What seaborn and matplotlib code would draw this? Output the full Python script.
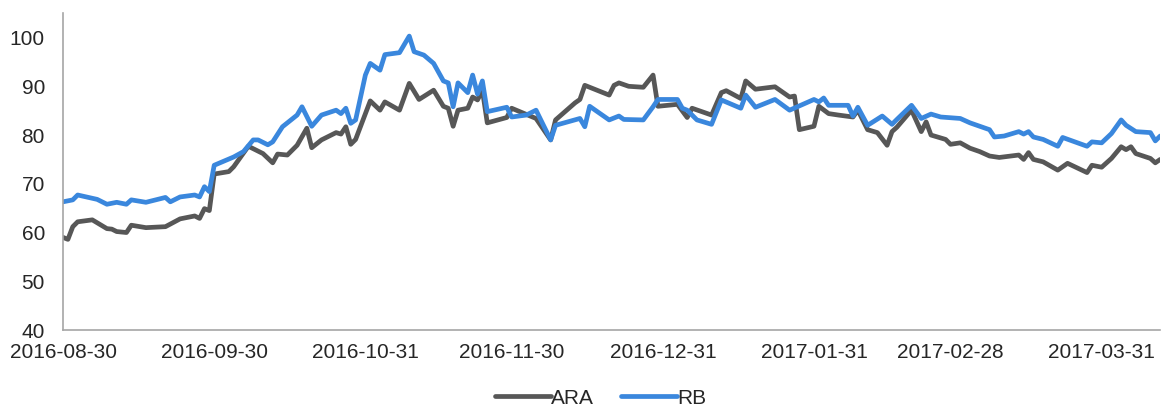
import pandas as pd
import numpy as np
import matplotlib.pyplot as plt
import matplotlib.dates as mdates
import seaborn as sns

# ARA series (dates)
ara_dates = ['2016-08-30', '2016-08-31', '2016-09-01', '2016-09-02', '2016-09-05', '2016-09-08',
             '2016-09-09', '2016-09-10', '2016-09-12', '2016-09-13', '2016-09-16', '2016-09-20',
             '2016-09-23', '2016-09-26', '2016-09-27', '2016-09-28', '2016-09-29', '2016-09-30',
             '2016-10-03', '2016-10-04', '2016-10-07', '2016-10-10', '2016-10-12', '2016-10-13',
             '2016-10-15', '2016-10-17', '2016-10-19', '2016-10-20', '2016-10-22', '2016-10-25',
             '2016-10-26', '2016-10-27', '2016-10-28', '2016-10-29', '2016-11-01', '2016-11-03',
             '2016-11-04', '2016-11-07', '2016-11-09', '2016-11-11', '2016-11-14', '2016-11-16',
             '2016-11-17', '2016-11-18', '2016-11-19', '2016-11-21', '2016-11-22', '2016-11-23',
             '2016-11-24', '2016-11-25', '2016-11-29', '2016-11-30', '2016-12-05', '2016-12-08',
             '2016-12-09', '2016-12-13', '2016-12-14', '2016-12-15', '2016-12-20', '2016-12-21',
             '2016-12-22', '2016-12-24', '2016-12-27', '2016-12-29', '2016-12-30', '2017-01-03',
             '2017-01-05', '2017-01-06', '2017-01-10', '2017-01-12', '2017-01-13', '2017-01-16',
             '2017-01-17', '2017-01-19', '2017-01-23', '2017-01-26', '2017-01-27', '2017-01-28',
             '2017-01-31', '2017-02-01', '2017-02-03', '2017-02-05', '2017-02-08', '2017-02-09',
             '2017-02-11', '2017-02-13', '2017-02-15', '2017-02-16', '2017-02-17', '2017-02-20',
             '2017-02-22', '2017-02-23', '2017-02-24', '2017-02-27', '2017-02-28', '2017-03-02',
             '2017-03-04', '2017-03-06', '2017-03-08', '2017-03-10', '2017-03-14', '2017-03-15',
             '2017-03-16', '2017-03-17', '2017-03-19', '2017-03-22', '2017-03-24', '2017-03-28',
             '2017-03-29', '2017-03-31', '2017-04-02', '2017-04-04', '2017-04-05', '2017-04-06',
             '2017-04-07', '2017-04-10', '2017-04-11', '2017-04-12']
ara_values = [59.0, 58.6, 61.2, 62.2, 62.6, 60.8,
              60.7, 60.2, 60.0, 61.5, 61.0, 61.2,
              62.8, 63.4, 62.9, 64.9, 64.5, 72.0,
              72.5, 73.5, 77.7, 76.2, 74.3, 76.1,
              75.9, 77.9, 81.4, 77.4, 79.0, 80.5,
              80.2, 81.7, 78.1, 79.1, 87.0, 85.1,
              86.8, 85.1, 90.6, 87.3, 89.2, 85.9,
              85.5, 81.8, 85.1, 85.5, 87.8, 87.2,
              89.2, 82.5, 83.6, 85.5, 83.4, 79.0,
              83.1, 86.6, 87.3, 90.2, 88.2, 90.2,
              90.7, 90.0, 89.8, 92.3, 85.9, 86.3,
              83.6, 85.5, 84.1, 88.7, 89.1, 87.5,
              91.1, 89.4, 89.9, 87.8, 88.0, 81.1,
              81.8, 85.9, 84.4, 84.1, 83.7, 85.1,
              81.1, 80.5, 77.9, 80.7, 81.6, 85.1,
              80.7, 82.7, 80.0, 79.1, 78.1, 78.4,
              77.3, 76.6, 75.7, 75.4, 75.9, 75.0,
              76.4, 75.0, 74.5, 72.8, 74.2, 72.3,
              73.8, 73.4, 75.2, 77.6, 77.0, 77.6,
              76.2, 75.2, 74.3, 75.0]

# RB series
rb_dates = ['2016-08-30', '2016-09-01', '2016-09-02', '2016-09-06', '2016-09-08', '2016-09-10',
            '2016-09-12', '2016-09-13', '2016-09-16', '2016-09-20', '2016-09-21', '2016-09-23',
            '2016-09-26', '2016-09-27', '2016-09-28', '2016-09-29', '2016-09-30', '2016-10-04',
            '2016-10-06', '2016-10-08', '2016-10-09', '2016-10-11', '2016-10-12', '2016-10-14',
            '2016-10-17', '2016-10-18', '2016-10-20', '2016-10-22', '2016-10-25', '2016-10-26',
            '2016-10-27', '2016-10-28', '2016-10-29', '2016-10-31', '2016-11-01', '2016-11-03',
            '2016-11-04', '2016-11-07', '2016-11-09', '2016-11-10', '2016-11-12', '2016-11-14',
            '2016-11-16', '2016-11-17', '2016-11-18', '2016-11-19', '2016-11-21', '2016-11-22',
            '2016-11-23', '2016-11-24', '2016-11-25', '2016-11-29', '2016-11-30', '2016-12-03',
            '2016-12-05', '2016-12-08', '2016-12-09', '2016-12-14', '2016-12-15', '2016-12-16',
            '2016-12-20', '2016-12-22', '2016-12-23', '2016-12-27', '2016-12-29', '2016-12-30',
            '2017-01-03', '2017-01-04', '2017-01-05', '2017-01-07', '2017-01-10', '2017-01-12',
            '2017-01-16', '2017-01-17', '2017-01-19', '2017-01-23', '2017-01-26', '2017-01-31',
            '2017-02-01', '2017-02-02', '2017-02-03', '2017-02-07', '2017-02-08', '2017-02-09',
            '2017-02-11', '2017-02-14', '2017-02-16', '2017-02-17', '2017-02-20', '2017-02-22',
            '2017-02-24', '2017-02-26', '2017-03-02', '2017-03-04', '2017-03-06', '2017-03-08',
            '2017-03-09', '2017-03-11', '2017-03-14', '2017-03-15', '2017-03-16', '2017-03-17',
            '2017-03-19', '2017-03-22', '2017-03-23', '2017-03-28', '2017-03-29', '2017-03-31',
            '2017-04-02', '2017-04-04', '2017-04-05', '2017-04-07', '2017-04-10', '2017-04-11',
            '2017-04-12']
rb_values = [66.3, 66.7, 67.7, 66.8, 65.8, 66.2,
             65.8, 66.7, 66.2, 67.2, 66.3, 67.3,
             67.7, 67.3, 69.4, 68.4, 73.8, 75.5,
             76.6, 79.0, 79.0, 78.0, 78.6, 81.7,
             84.1, 85.8, 81.8, 84.1, 85.1, 84.4,
             85.5, 82.4, 83.1, 92.3, 94.7, 93.3,
             96.5, 96.9, 100.3, 97.1, 96.4, 94.7,
             91.1, 90.7, 85.8, 90.7, 88.7, 92.3,
             88.4, 91.1, 84.8, 85.7, 83.7, 84.1,
             85.1, 79.0, 82.0, 83.4, 81.7, 85.9,
             83.1, 83.9, 83.2, 83.1, 85.8, 87.3,
             87.3, 85.5, 85.1, 83.1, 82.2, 87.2,
             85.5, 88.2, 85.7, 87.3, 85.1, 87.3,
             86.8, 87.6, 86.1, 86.1, 83.9, 85.7,
             82.0, 83.9, 82.2, 83.2, 86.1, 83.4,
             84.3, 83.7, 83.4, 82.5, 81.8, 81.1,
             79.6, 79.8, 80.7, 80.2, 80.7, 79.6,
             79.1, 77.7, 79.5, 77.7, 78.6, 78.4,
             80.3, 83.1, 82.0, 80.7, 80.5, 78.8,
             79.8]

tick_dates = ['2016-08-30', '2016-09-30', '2016-10-31', '2016-11-30', '2016-12-31',
              '2017-01-31', '2017-02-28', '2017-03-31']

ara = pd.DataFrame({'date': pd.to_datetime(ara_dates), 'value': ara_values, 'series': 'ARA'})
rb = pd.DataFrame({'date': pd.to_datetime(rb_dates), 'value': rb_values, 'series': 'RB'})
df = pd.concat([ara, rb], ignore_index=True)

sns.set_style('white')
plt.rcParams['font.family'] = ['Liberation Sans', 'DejaVu Sans']

fig = plt.figure(figsize=(11.61, 4.12), dpi=100)
ax = fig.add_axes([0.0543, 0.199, 0.945, 0.769])

sns.lineplot(data=df, x='date', y='value', hue='series', ax=ax,
             palette={'ARA': '#575757', 'RB': '#3a87dd'}, linewidth=3.4)

ax.set_xlim(pd.Timestamp('2016-08-30'), pd.Timestamp('2017-04-12'))
ax.set_ylim(40, 105)
ax.set_yticks(np.arange(40, 101, 10))
ax.set_xticks(pd.to_datetime(tick_dates))
ax.xaxis.set_major_formatter(mdates.DateFormatter('%Y-%m-%d'))
ax.set_xlabel('')
ax.set_ylabel('')

for side in ['top', 'right']:
    ax.spines[side].set_visible(False)
for side in ['left', 'bottom']:
    ax.spines[side].set_color('#a6a6a6')
    ax.spines[side].set_linewidth(1.2)
ax.tick_params(axis='both', which='major', direction='out', length=5, width=1.2,
               color='#a6a6a6', labelsize=15, labelcolor='#262626')
ax.tick_params(axis='x', pad=4)
ax.tick_params(axis='y', pad=8)

ax.legend(loc='center', bbox_to_anchor=(0.49, -0.215), ncol=2, frameon=False,
          fontsize=15, handlelength=2.7, handletextpad=0.0, columnspacing=1.3,
          borderaxespad=0, borderpad=0)

fig.savefig('out.png', dpi=100)
